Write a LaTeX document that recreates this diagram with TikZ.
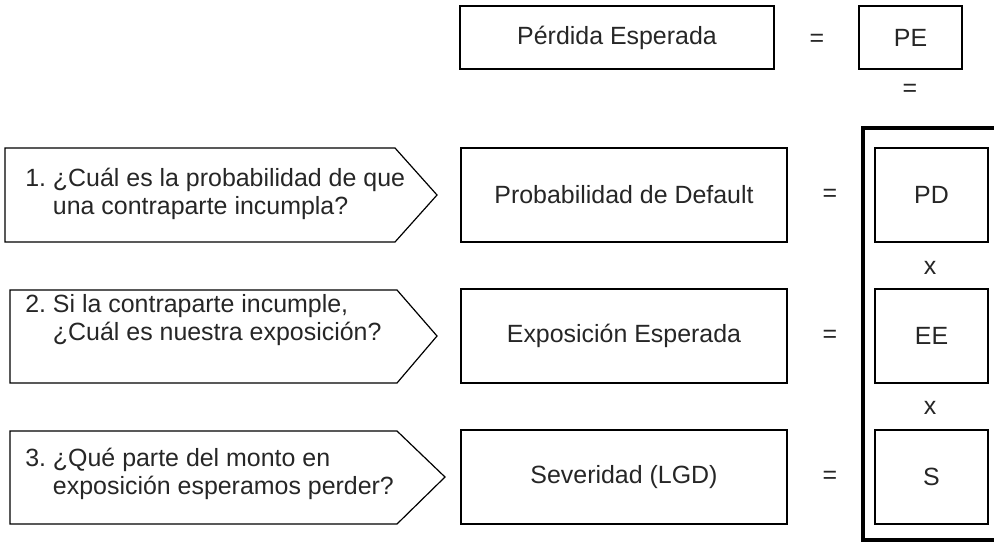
\documentclass[tikz,border=0pt]{standalone}
\usepackage{fontspec}
\setmainfont{Liberation Sans}
\begin{document}
\begin{tikzpicture}[x=0.75pt,y=-0.75pt,
  txt/.style={font=\fontsize{18.7}{21}\selectfont, text=black!85},
  box/.style={draw, line width=0.9pt, inner sep=0pt, txt},
  midbox/.style={box, minimum width=244.5pt, minimum height=70.5pt},
  symbox/.style={box, minimum width=84.75pt, minimum height=70.5pt},
  op/.style={txt, inner sep=0pt},
  arrowshape/.style={draw, line width=0.9pt},
  question/.style={txt, anchor=west, align=left, inner sep=0pt}]
\useasboundingbox (0,0) rectangle (994,543);

% top row
\node[box, minimum width=235.5pt, minimum height=47.25pt] (pel) at (617,37.5) {Pérdida Esperada};
\node[op] (eq0) at (817,40) {=};
\node[box, minimum width=77.25pt, minimum height=47.25pt] (pe) at (910.5,37.5) {PE};
\node[op] (eqpe) at (910,90) {=};

% arrows
\draw[arrowshape] (5,148) -- (395,148) -- (437,195) -- (395,242) -- (5,242) -- cycle;
\draw[arrowshape] (10,290) -- (397,290) -- (437,336) -- (397,383) -- (10,383) -- cycle;
\draw[arrowshape] (10,431) -- (397,431) -- (445,477) -- (397,524) -- (10,524) -- cycle;

\node[question] (q1) at (25,194) {1.\ ¿Cuál es la probabilidad de que\\\hphantom{1.\ }una contraparte incumpla?};
\node[question] (q2) at (25,320) {2.\ Si la contraparte incumple,\\\hphantom{2.\ }¿Cuál es nuestra exposición?};
\node[question] (q3) at (25,474) {3.\ ¿Qué parte del monto en\\\hphantom{3.\ }exposición esperamos perder?};

% middle boxes
\node[midbox] (pdl) at (624,195) {Probabilidad de Default};
\node[midbox] (eel) at (624,336) {Exposición Esperada};
\node[midbox] (sl) at (624,477) {Severidad (LGD)};

\node[op] (eq1) at (830,195) {=};
\node[op] (eq2) at (830,336) {=};
\node[op] (eq3) at (830,477) {=};

% symbol boxes
\node[symbox] (pd) at (931.5,195) {PD};
\node[symbox] (ee) at (931.5,336) {EE};
\node[symbox] (s) at (931.5,477) {S};
\node[op] (x1) at (930,268) {x};
\node[op] (x2) at (930,408) {x};

% thick bracket
\draw[line width=3pt] (994,128) -- (863,128) -- (863,540) -- (994,540);
\end{tikzpicture}
\end{document}
